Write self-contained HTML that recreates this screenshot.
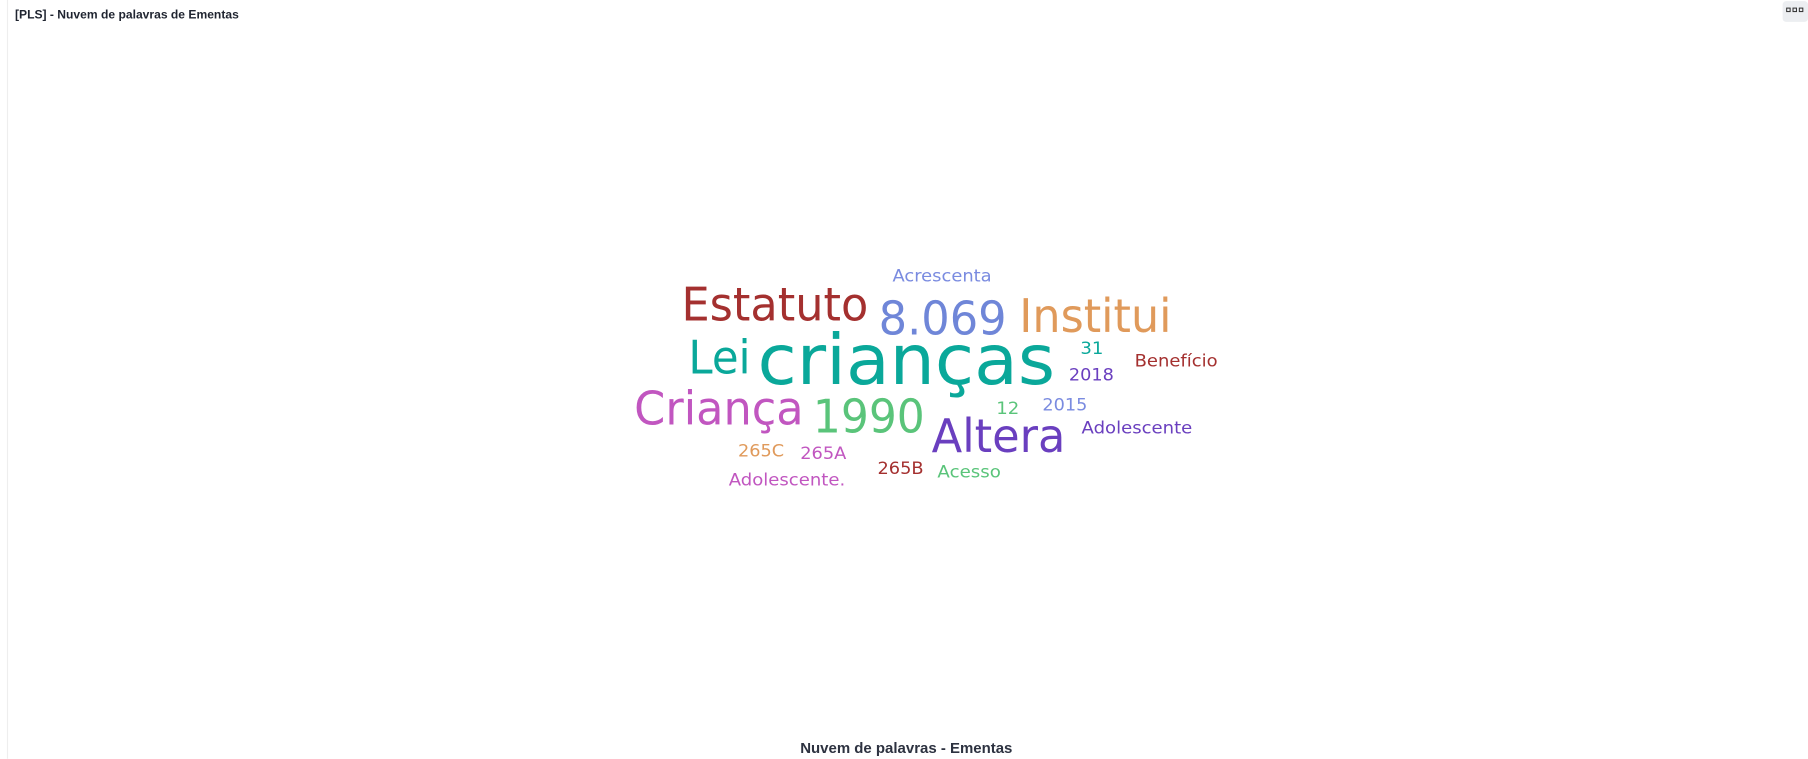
<!DOCTYPE html>
<html><head><meta charset="utf-8">
<style>
html,body{margin:0;padding:0;background:#fff;width:1808px;height:759px;overflow:hidden}
svg{display:block}
</style></head>
<body>
<svg width="1808" height="759" viewBox="0 0 1568 658.2" xmlns="http://www.w3.org/2000/svg">
<line x1="6.5" y1="0" x2="6.5" y2="658" stroke="#eeeeee" stroke-width="1"/>
<text x="13" y="16" font-family="Liberation Sans, sans-serif" font-weight="bold" font-size="10.5" fill="#1f2430">[PLS] - Nuvem de palavras de Ementas</text>
<g>
<rect x="1546" y="1" width="22" height="18" rx="3" fill="#eceef1"/>
<rect x="1549.5" y="7" width="3" height="3" fill="none" stroke="#333" stroke-width="0.9"/>
<rect x="1555" y="7" width="3" height="3" fill="none" stroke="#333" stroke-width="0.9"/>
<rect x="1560.5" y="7" width="3" height="3" fill="none" stroke="#333" stroke-width="0.9"/>
</g>
<g id="cloud"></g>
<text x="786" y="653" text-anchor="middle" font-family="Liberation Sans, sans-serif" font-weight="bold" font-size="13" fill="#2d3240">Nuvem de palavras - Ementas</text>
</svg>
<script>
const words = ["Acrescenta","Estatuto","8.069","Institui","Lei","crianças","31","Benefício","2018","Criança","1990","12","2015","Altera","Adolescente","265C","265A","265B","Acesso","Adolescente."];
const weights = [1,3,3,3,3,5,1,1,1,3,3,1,1,3,1,1,1,1,1,1];
const colors = ["#7a8be0","#a4302f","#6f86d8","#e09a5b","#0aa89a","#0aa89a","#0aa89a","#a4302f","#6a3fbf","#c156c0","#5ac47a","#5ac47a","#7a8be0","#6a3fbf","#6a3fbf","#e09a5b","#c156c0","#a4302f","#5ac47a","#c156c0"];
// layout (left x, right x, baseline) from the cloud placement
const layoutLeft = [774,591,762,884,597,657,937,984,927,550,705,864,904,808,938,640,694,761,813,632];
const layoutRight = [860,753,873,1016,651,915,957,1056,966,697,802,884,943,924,1034,680,734,801,868,733];
const layoutBase = [244,278,290,288,324,333,307,318,330,368,375,359,356,392,376,396,398,411,414,421];
function fontSize(w){ return w>=5 ? 60 : (w>=3 ? 40 : 15); }
const g = document.getElementById('cloud');
const NS = "http://www.w3.org/2000/svg";
words.forEach((w,i)=>{
  const t = document.createElementNS(NS,'text');
  
  
  t.setAttribute('x', layoutLeft[i]);
  t.setAttribute('y', layoutBase[i]);
  t.setAttribute('font-family', 'DejaVu Sans, Liberation Sans, sans-serif');
  t.setAttribute('font-size', fontSize(weights[i]));
  t.setAttribute('fill', colors[i]);
  t.setAttribute('textLength', layoutRight[i]-layoutLeft[i]);
  t.setAttribute('lengthAdjust', 'spacingAndGlyphs');
  t.textContent = w;
  g.appendChild(t);
});
</script>
</body></html>
